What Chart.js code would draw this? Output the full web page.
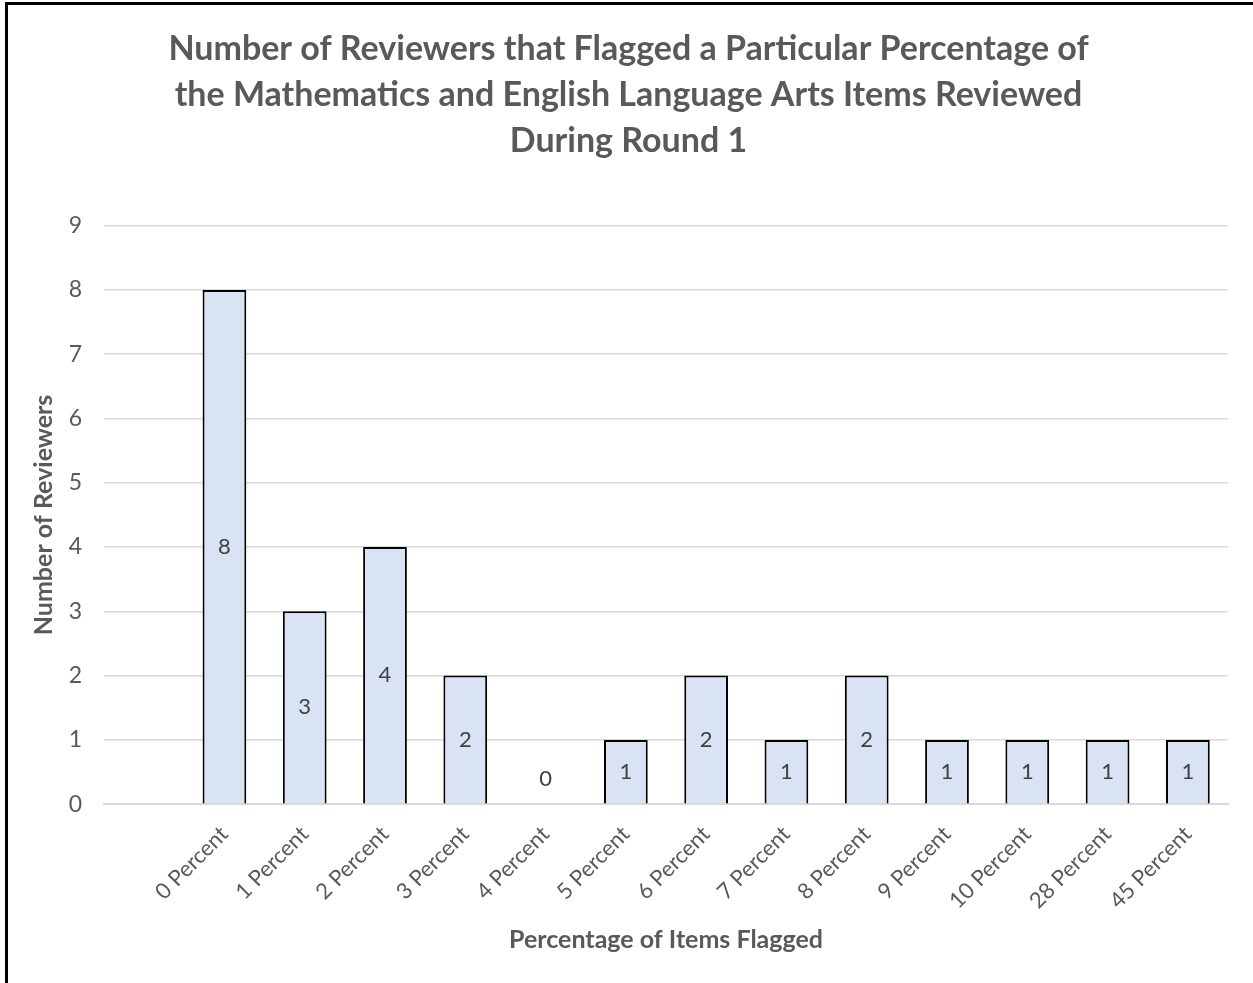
<!DOCTYPE html>
<html>
<head>
<meta charset="utf-8">
<script src="https://cdn.jsdelivr.net/npm/chart.js@4"></script>
<style>
  html, body { margin: 0; padding: 0; background: #fff; }
  #wrap { position: relative; width: 1253px; height: 983px; overflow: hidden; }
  #frame { position: absolute; left: 5px; top: 2px; width: 1300px; height: 1100px;
           border-left: 3px solid #000; border-top: 3px solid #000; pointer-events: none; }
</style>
</head>
<body>
<div id="wrap">
  <canvas id="myChart" width="1253" height="983"></canvas>
  <div id="frame"></div>
</div>
<script>
; ((D, log = arg => console.log(arg)) => {

  // first slot is an empty category, as in the original sheet
  let categories = ['', '0 Percent', '1 Percent', '2 Percent', '3 Percent', '4 Percent', '5 Percent',
    '6 Percent', '7 Percent', '8 Percent', '9 Percent', '10 Percent', '28 Percent', '45 Percent'];
  let reviewers = [null, 8, 3, 4, 2, 0, 1, 2, 1, 2, 1, 1, 1, 1];
  let yTicks = [0, 1, 2, 3, 4, 5, 6, 7, 8, 9];

  let titleLines = [
    'Number of Reviewers that Flagged a Particular Percentage of',
    'the Mathematics and English Language Arts Items Reviewed',
    'During Round 1'
  ];

  const grey = '#595959';
  const font = 'Lato';

  // values written in the middle of each bar
  let barLabels = {
    id: 'barLabels',
    afterDatasetsDraw(chart) {
      let ctx = chart.ctx;
      let meta = chart.getDatasetMeta(0);
      ctx.save();
      ctx.font = '22px ' + font;
      ctx.fillStyle = '#404040';
      ctx.textAlign = 'center';
      ctx.textBaseline = 'middle';
      meta.data.forEach((bar, i) => {
        let v = reviewers[i];
        if (v === null) return;
        let y = v === 0 ? bar.base - 25 : (bar.y + bar.base) / 2;
        ctx.fillText(String(v), bar.x, y);
      });
      ctx.restore();
    }
  };

  let ctx = D.querySelector('#myChart').getContext('2d');

  let chart = new Chart(ctx, {
    type: 'bar',
    data: {
      labels: categories,
      datasets: [{
        label: 'Number of Reviewers',
        data: reviewers,
        backgroundColor: '#dae3f3',
        borderColor: '#000000',
        borderWidth: 2,
        categoryPercentage: 1,
        barPercentage: 0.545,
      }]
    },
    plugins: [barLabels],
    options: {
      responsive: false,
      animation: false,
      layout: { padding: { left: 29, right: 25, top: 26, bottom: 15 } },
      plugins: {
        legend: { display: false },
        tooltip: { enabled: false },
        title: {
          display: true,
          text: titleLines,
          color: grey,
          font: { family: font, size: 34, weight: 'bold', lineHeight: 1.35 },
          padding: { top: 0, bottom: 62 }
        }
      },
      scales: {
        x: {
          grid: { display: false },
          border: { display: true, color: '#d9d9d9', width: 2 },
          afterFit: axis => { axis.paddingLeft = 0; },
          ticks: {
            color: grey,
            font: { family: font, size: 22 },
            minRotation: 45,
            maxRotation: 45,
            padding: 9
          },
          title: {
            display: true,
            text: 'Percentage of Items Flagged',
            color: grey,
            font: { family: font, size: 25, weight: 'bold' },
            padding: { top: 2, bottom: 13 }
          }
        },
        y: {
          min: 0,
          max: 9,
          afterBuildTicks: axis => { axis.ticks = yTicks.map(v => ({ value: v })); },
          afterFit: axis => { axis.width = 75; },
          grid: { color: '#d9d9d9', lineWidth: 1.5, drawTicks: false },
          border: { display: false },
          ticks: {
            color: grey,
            font: { family: font, size: 23 },
            padding: 22
          },
          title: {
            display: true,
            text: 'Number of Reviewers',
            color: grey,
            font: { family: font, size: 25, weight: 'bold' },
            padding: { top: 0, bottom: 4 }
          }
        }
      }
    }
  });
})(document)
</script>
</body>
</html>
